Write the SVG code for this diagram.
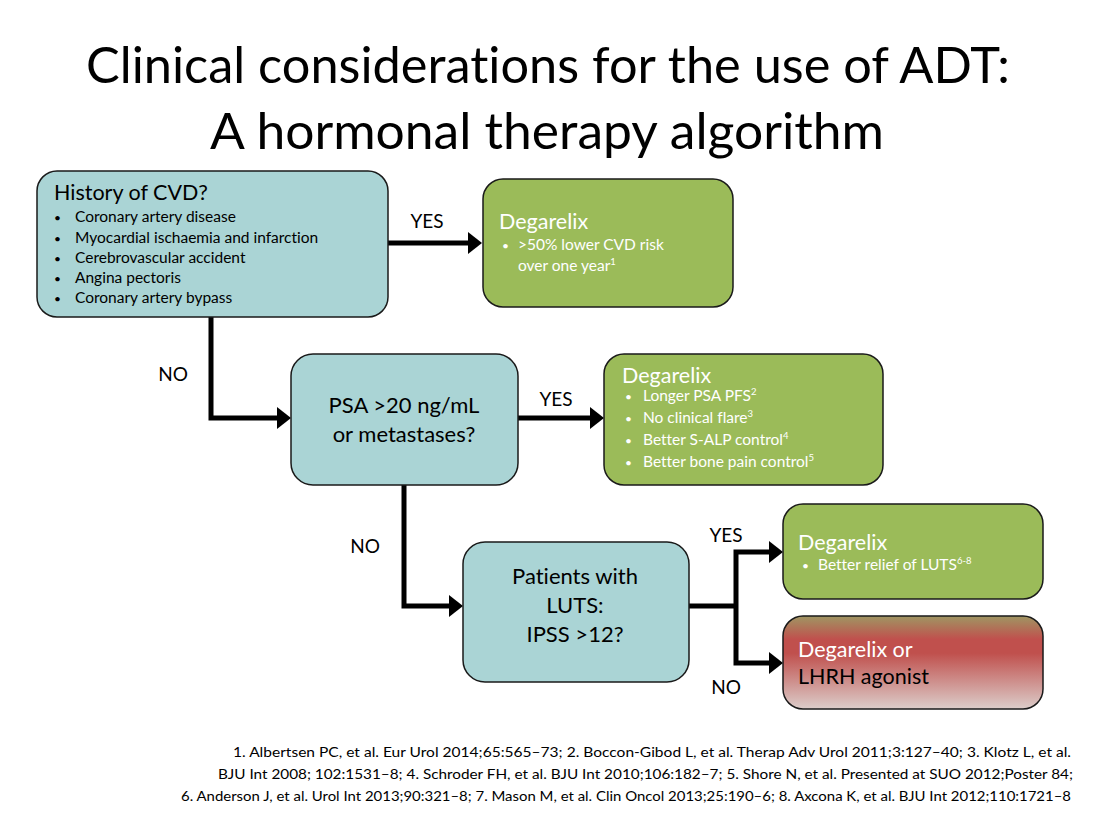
<svg xmlns="http://www.w3.org/2000/svg" width="1098" height="818" viewBox="0 0 1098 818">
<defs>
<style>
text{font-family:Lato,"Liberation Sans",sans-serif;font-variant-ligatures:none;}
.title{font-size:50px;fill:#000;}
.q{fill:#AAD4D5;stroke:#1a1a1a;stroke-width:1.5;}
.g{fill:#9BBB59;stroke:#1a1a1a;stroke-width:1.5;}
.r{fill:url(#redgrad);stroke:#1a1a1a;stroke-width:1.5;}
.h{font-size:21.5px;fill:#000;}
.hw{font-size:21.5px;fill:#fff;}
.b{font-size:15.5px;fill:#000;}
.bw{font-size:15.5px;fill:#fff;}
.dot{font-size:12px;}
.c{font-size:22px;fill:#000;text-anchor:middle;}
.lab{font-size:19px;fill:#000;text-anchor:middle;}
.ref{font-size:12.5px;fill:#000;}
.conn{fill:none;stroke:#000;stroke-width:5;stroke-linejoin:miter;}
.sup{font-size:9.5px;}
</style>
<linearGradient id="redgrad" x1="0" y1="0" x2="0" y2="1">
<stop offset="0" stop-color="#9f9663"/>
<stop offset="0.25" stop-color="#c0504d"/>
<stop offset="0.4" stop-color="#c0504d"/>
<stop offset="1" stop-color="#dccdca"/>
</linearGradient>
<marker id="arr" markerUnits="userSpaceOnUse" markerWidth="14" markerHeight="22" refX="2" refY="11" orient="auto">
<path d="M0,0 L14,11 L0,22 z" fill="#000"/>
</marker>
</defs>
<rect width="1098" height="818" fill="#fff"/>
<g id="title">
<text class="title" x="86" y="83" textLength="924" lengthAdjust="spacingAndGlyphs">Clinical considerations for the use of ADT:</text>
<text class="title" x="210" y="149" textLength="674" lengthAdjust="spacingAndGlyphs">A hormonal therapy algorithm</text>
</g>
<g id="connectors">
<path class="conn" d="M388,243 H470" marker-end="url(#arr)"/>
<path class="conn" d="M211,317 V418 H279" marker-end="url(#arr)"/>
<path class="conn" d="M518,418 H592" marker-end="url(#arr)"/>
<path class="conn" d="M404,485 V606 H451" marker-end="url(#arr)"/>
<path class="conn" d="M689,606 H736"/>
<path class="conn" d="M736,606 V552 H771" marker-end="url(#arr)"/>
<path class="conn" d="M736,606 V663 H771" marker-end="url(#arr)"/>
<text class="lab" x="427" y="228">YES</text>
<text class="lab" x="173" y="381">NO</text>
<text class="lab" x="556" y="406">YES</text>
<text class="lab" x="365" y="553">NO</text>
<text class="lab" x="726" y="542">YES</text>
<text class="lab" x="726" y="694">NO</text>
</g>
<g id="cvd">
<rect class="q" x="37" y="171" width="351" height="146" rx="20"/>
<text class="h" x="54" y="200">History of CVD?</text>
<text class="b dot" x="54" y="222">•</text><text class="b" x="75" y="222">Coronary artery disease</text>
<text class="b dot" x="54" y="243">•</text><text class="b" x="75" y="243">Myocardial ischaemia and infarction</text>
<text class="b dot" x="54" y="263">•</text><text class="b" x="75" y="263">Cerebrovascular accident</text>
<text class="b dot" x="54" y="283">•</text><text class="b" x="75" y="283">Angina pectoris</text>
<text class="b dot" x="54" y="303">•</text><text class="b" x="75" y="303">Coronary artery bypass</text>
</g>
<g id="deg1">
<rect class="g" x="483" y="179" width="250" height="128" rx="20"/>
<text class="hw" x="499" y="229">Degarelix</text>
<text class="bw dot" x="502" y="250">•</text><text class="bw" x="518" y="250">&gt;50% lower CVD risk</text>
<text class="bw" x="518" y="271">over one year<tspan class="sup" dy="-6">1</tspan></text>
</g>
<g id="psa">
<rect class="q" x="291" y="354" width="227" height="131" rx="22"/>
<text class="c" x="404" y="413">PSA &gt;20 ng/mL</text>
<text class="c" x="404" y="442">or metastases?</text>
</g>
<g id="deg2">
<rect class="g" x="604" y="354" width="279" height="131" rx="20"/>
<text class="hw" x="622" y="383">Degarelix</text>
<text class="bw dot" x="625" y="401">•</text><text class="bw" x="643" y="401">Longer PSA PFS<tspan class="sup" dy="-6">2</tspan></text>
<text class="bw dot" x="625" y="423">•</text><text class="bw" x="643" y="423">No clinical flare<tspan class="sup" dy="-6">3</tspan></text>
<text class="bw dot" x="625" y="445">•</text><text class="bw" x="643" y="445">Better S-ALP control<tspan class="sup" dy="-6">4</tspan></text>
<text class="bw dot" x="625" y="467">•</text><text class="bw" x="643" y="467">Better bone  pain control<tspan class="sup" dy="-6">5</tspan></text>
</g>
<g id="luts">
<rect class="q" x="463" y="542" width="226" height="140" rx="22"/>
<text class="c" x="575" y="584">Patients with</text>
<text class="c" x="575" y="613">LUTS:</text>
<text class="c" x="575" y="642">IPSS &gt;12?</text>
</g>
<g id="deg3">
<rect class="g" x="783" y="504" width="260" height="95" rx="20"/>
<text class="hw" x="798" y="550">Degarelix</text>
<text class="bw dot" x="802" y="570">•</text><text class="bw" x="818" y="570">Better relief of LUTS<tspan class="sup" dy="-6">6-8</tspan></text>
</g>
<g id="lhrh">
<rect class="r" x="783" y="616" width="260" height="93" rx="20"/>
<text class="hw" x="798" y="657">Degarelix or</text>
<text class="h" x="798" y="684">LHRH agonist</text>
</g>
<g id="references">
<text class="ref" x="233" y="757" textLength="838" lengthAdjust="spacingAndGlyphs">1. Albertsen PC, et al. Eur Urol 2014;65:565–73; 2. Boccon-Gibod L, et al. Therap Adv Urol 2011;3:127–40; 3. Klotz L, et al.</text>
<text class="ref" x="218" y="779" textLength="855" lengthAdjust="spacingAndGlyphs">BJU Int 2008; 102:1531–8; 4. Schroder FH, et al. BJU Int 2010;106:182–7; 5. Shore N, et al. Presented at SUO 2012;Poster 84;</text>
<text class="ref" x="181" y="801" textLength="890" lengthAdjust="spacingAndGlyphs">6. Anderson J, et al. Urol Int 2013;90:321–8; 7. Mason M, et al. Clin Oncol 2013;25:190–6; 8. Axcona K, et al. BJU Int 2012;110:1721–8</text>
</g>
</svg>
